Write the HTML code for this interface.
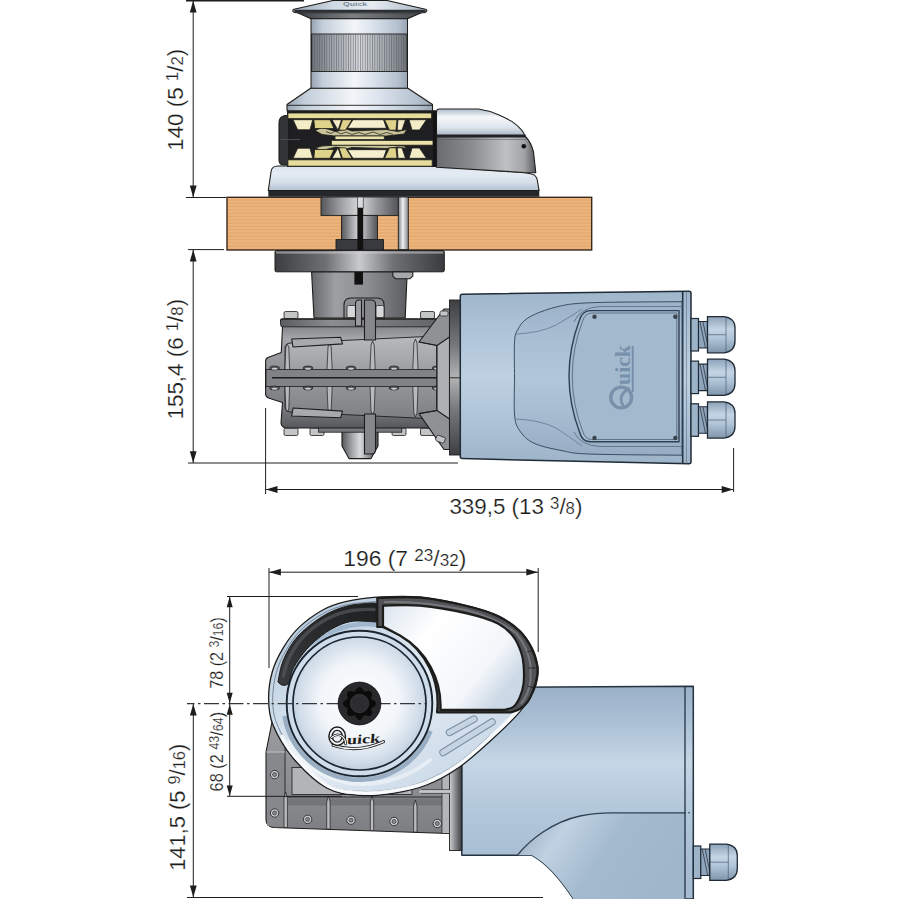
<!DOCTYPE html>
<html lang="en">
<head>
<meta charset="utf-8">
<title>Windlass dimensions</title>
<style>
html,body{margin:0;padding:0;background:#fff;}
body{width:899px;height:899px;overflow:hidden;}
svg{display:block;}
text{font-family:"Liberation Sans",sans-serif;fill:#1d1d1b;}
#dims text{stroke:#fff;stroke-width:0.2px;}
.dl{stroke:#1d1d1b;stroke-width:1;fill:none;}
.ar{fill:#1d1d1b;stroke:none;}
.ol{stroke:#1d1d1b;stroke-width:1.1;stroke-linejoin:round;}
</style>
</head>
<body>
<svg width="899" height="899" viewBox="0 0 899 899">
<defs>
<!-- GRADIENTS -->
<linearGradient id="gDrum" x1="0" x2="1" y1="0" y2="0">
  <stop offset="0" stop-color="#97a3b1"/><stop offset="0.12" stop-color="#c3ceda"/><stop offset="0.45" stop-color="#f3f6f9"/><stop offset="0.62" stop-color="#dde5ee"/><stop offset="0.9" stop-color="#b4c0ce"/><stop offset="1" stop-color="#98a4b2"/>
</linearGradient>
<linearGradient id="gKnurl" x1="0" x2="1" y1="0" y2="0">
  <stop offset="0" stop-color="#6e737a"/><stop offset="0.2" stop-color="#a0a5ac"/><stop offset="0.5" stop-color="#d8dbdf"/><stop offset="0.75" stop-color="#abb0b6"/><stop offset="1" stop-color="#70757c"/>
</linearGradient>
<pattern id="pKnurl" width="2.4" height="10" patternUnits="userSpaceOnUse"><rect x="0" y="0" width="0.9" height="10" fill="#4d5157" opacity="0.55"/></pattern>
<linearGradient id="gCapTop" x1="0" x2="1" y1="0" y2="0">
  <stop offset="0" stop-color="#9daab8"/><stop offset="0.3" stop-color="#cfd9e4"/><stop offset="0.6" stop-color="#e6ecf2"/><stop offset="1" stop-color="#a7b3c1"/>
</linearGradient>
<linearGradient id="gCapUnder" x1="0" x2="1" y1="0" y2="0">
  <stop offset="0" stop-color="#3f4246"/><stop offset="0.45" stop-color="#7b7e83"/><stop offset="1" stop-color="#44474b"/>
</linearGradient>
<linearGradient id="gBase" x1="0" x2="0" y1="0" y2="1">
  <stop offset="0" stop-color="#d9e2ec"/><stop offset="0.3" stop-color="#e4ebf3"/><stop offset="0.7" stop-color="#d3dde8"/><stop offset="1" stop-color="#b1bfcf"/>
</linearGradient>
<linearGradient id="gCover" x1="0" x2="0" y1="0" y2="1">
  <stop offset="0" stop-color="#aebbca"/><stop offset="0.3" stop-color="#f6f8fb"/><stop offset="0.7" stop-color="#dbe3ec"/><stop offset="1" stop-color="#a5b1c0"/>
</linearGradient>
<linearGradient id="gBand" x1="0" x2="1" y1="0" y2="0">
  <stop offset="0" stop-color="#6a6b6e"/><stop offset="0.35" stop-color="#8a8b8e"/><stop offset="0.7" stop-color="#bfc0c2"/><stop offset="0.88" stop-color="#a3a4a6"/><stop offset="1" stop-color="#58595c"/>
</linearGradient>
<linearGradient id="gYellow" x1="0" x2="1" y1="0" y2="0">
  <stop offset="0" stop-color="#c9be78"/><stop offset="0.35" stop-color="#f3ecb9"/><stop offset="0.6" stop-color="#f7f2cf"/><stop offset="1" stop-color="#c4b972"/>
</linearGradient>
<pattern id="pWood" x="0" y="197.300" width="10" height="3.300" patternUnits="userSpaceOnUse"><rect width="10" height="3.300" fill="#edb57e"/><rect y="2.100" width="10" height="1.200" fill="#e4a66c"/></pattern>
<linearGradient id="gSteel" x1="0" x2="1" y1="0" y2="0">
  <stop offset="0" stop-color="#55575b"/><stop offset="0.3" stop-color="#a9abae"/><stop offset="0.5" stop-color="#d9dadc"/><stop offset="0.7" stop-color="#9b9da0"/><stop offset="1" stop-color="#505256"/>
</linearGradient>
<linearGradient id="gFlange" x1="0" x2="1" y1="0" y2="0">
  <stop offset="0" stop-color="#3c3d40"/><stop offset="0.3" stop-color="#6f7073"/><stop offset="0.5" stop-color="#c9cacc"/><stop offset="0.7" stop-color="#6f7073"/><stop offset="1" stop-color="#3a3b3e"/>
</linearGradient>
<linearGradient id="gRod" x1="0" x2="1" y1="0" y2="0">
  <stop offset="0" stop-color="#7b7e83"/><stop offset="0.45" stop-color="#eef0f2"/><stop offset="1" stop-color="#85888d"/>
</linearGradient>
<linearGradient id="gNeck" x1="0" x2="1" y1="0" y2="0">
  <stop offset="0" stop-color="#66686c"/><stop offset="0.25" stop-color="#9d9fa2"/><stop offset="0.6" stop-color="#8a8c90"/><stop offset="1" stop-color="#5c5e62"/>
</linearGradient>
<linearGradient id="gGear" x1="0" x2="0" y1="0" y2="1">
  <stop offset="0" stop-color="#6e7074"/><stop offset="0.18" stop-color="#a4a6a9"/><stop offset="0.5" stop-color="#8c8e92"/><stop offset="0.82" stop-color="#7a7c80"/><stop offset="1" stop-color="#55575b"/>
</linearGradient>
<linearGradient id="gGearH" x1="0" x2="0" y1="0" y2="1">
  <stop offset="0" stop-color="#b8babd"/><stop offset="0.5" stop-color="#97999d"/><stop offset="1" stop-color="#7d7f83"/>
</linearGradient>
<linearGradient id="gMotor" x1="0" x2="0" y1="0" y2="1">
  <stop offset="0" stop-color="#9fb5ca"/><stop offset="0.2" stop-color="#adc2d6"/><stop offset="0.5" stop-color="#bed1e2"/><stop offset="0.8" stop-color="#abc0d5"/><stop offset="1" stop-color="#9db3c8"/>
</linearGradient>
<linearGradient id="gMotorBump" x1="0" x2="0" y1="0" y2="1">
  <stop offset="0" stop-color="#9cb2c8"/><stop offset="0.25" stop-color="#a9bed3"/><stop offset="0.5" stop-color="#b2c6d9"/><stop offset="0.75" stop-color="#a6bbd0"/><stop offset="1" stop-color="#97adc3"/>
</linearGradient>
<linearGradient id="gGland" x1="0" x2="0" y1="0" y2="1">
  <stop offset="0" stop-color="#8ca2b8"/><stop offset="0.35" stop-color="#c4d5e4"/><stop offset="0.6" stop-color="#b1c5d8"/><stop offset="1" stop-color="#7f95ab"/>
</linearGradient>
<linearGradient id="gMotor2" gradientUnits="userSpaceOnUse" x1="0" x2="0" y1="686" y2="900">
  <stop offset="0" stop-color="#9bb1c7"/><stop offset="0.16" stop-color="#aabfd4"/><stop offset="0.355" stop-color="#c5d6e6"/><stop offset="0.59" stop-color="#b2c7da"/><stop offset="0.8" stop-color="#a9bed3"/><stop offset="1" stop-color="#a5bad0"/>
</linearGradient>
<linearGradient id="gMotor2b" x1="0" x2="1" y1="0" y2="0.35">
  <stop offset="0" stop-color="#8fa5bb"/><stop offset="0.3" stop-color="#c0d2e2"/><stop offset="0.6" stop-color="#a4bacf"/><stop offset="1" stop-color="#a0b6cb"/>
</linearGradient>
<radialGradient id="gDisc" cx="0.5" cy="0.48" r="0.55">
  <stop offset="0" stop-color="#ffffff"/><stop offset="0.55" stop-color="#f1f5f9"/><stop offset="0.85" stop-color="#cfdbe8"/><stop offset="1" stop-color="#b3c4d6"/>
</radialGradient>
<linearGradient id="gEgg" x1="0" x2="1" y1="0" y2="1">
  <stop offset="0" stop-color="#a9bed3"/><stop offset="0.25" stop-color="#c9d8e7"/><stop offset="0.5" stop-color="#e3ebf3"/><stop offset="0.75" stop-color="#cfdcea"/><stop offset="1" stop-color="#b9cbdd"/>
</linearGradient>
<linearGradient id="gTopCover" x1="0" x2="1" y1="0" y2="0.6">
  <stop offset="0" stop-color="#dbe5ef"/><stop offset="0.35" stop-color="#ffffff"/><stop offset="0.8" stop-color="#f3f6fa"/><stop offset="1" stop-color="#cbd8e5"/>
</linearGradient>
<linearGradient id="gGear2" x1="0" x2="0" y1="0" y2="1">
  <stop offset="0" stop-color="#9a9ca0"/><stop offset="0.6" stop-color="#8b8d91"/><stop offset="1" stop-color="#7c7e82"/>
</linearGradient>
<linearGradient id="gFlangeV" x1="0" x2="1" y1="0" y2="0">
  <stop offset="0" stop-color="#cfd0d2"/><stop offset="0.35" stop-color="#999b9e"/><stop offset="0.7" stop-color="#66686b"/><stop offset="1" stop-color="#3e3f42"/>
</linearGradient>
<linearGradient id="gArc" x1="0" x2="1" y1="1" y2="0">
  <stop offset="0" stop-color="#3a3b3e"/><stop offset="0.5" stop-color="#2a2b2d"/><stop offset="1" stop-color="#1e1f21"/>
</linearGradient>
<linearGradient id="gFlangeSide" x1="0" x2="0" y1="0" y2="1">
  <stop offset="0" stop-color="#3e3f42"/><stop offset="0.3" stop-color="#77797c"/><stop offset="0.5" stop-color="#b2b3b5"/><stop offset="0.7" stop-color="#77797c"/><stop offset="1" stop-color="#3e3f42"/>
</linearGradient>
<linearGradient id="gLip" x1="0" x2="1" y1="0" y2="0">
  <stop offset="0" stop-color="#5a5c60"/><stop offset="0.3" stop-color="#8b8d91"/><stop offset="0.6" stop-color="#77797d"/><stop offset="1" stop-color="#5e6064"/>
</linearGradient>
</defs>

<rect width="899" height="899" fill="#ffffff"/>

<g id="sideview">
<!-- WOOD -->
<rect x="227" y="197.300" width="364.700" height="52.700" fill="url(#pWood)" stroke="#3a2a1e" stroke-width="1.400"/>
<!-- shaft recess in wood -->
<rect x="321" y="197" width="78" height="18.4" fill="url(#gSteel)" stroke="#1d1d1b" stroke-width="0.9"/>
<rect x="341.5" y="215.4" width="36" height="24.4" fill="url(#gSteel)" stroke="#1d1d1b" stroke-width="0.9"/>
<rect x="336" y="239.6" width="47.5" height="10.4" fill="#3a3b3e" stroke="#1d1d1b" stroke-width="0.9"/>
<rect x="357.4" y="197" width="5.8" height="11" fill="#d9dbde" stroke="#1d1d1b" stroke-width="0.6"/>
<rect x="357.4" y="208" width="5.8" height="42" fill="#111"/>
<rect x="398.3" y="197" width="10" height="52.6" fill="url(#gRod)" stroke="#1d1d1b" stroke-width="0.9"/>
<!-- FLANGE under deck -->
<rect x="275" y="250.6" width="169.3" height="21.2" rx="1.5" fill="url(#gFlange)" stroke="#1d1d1b" stroke-width="1"/>
<rect x="276" y="251.4" width="167.3" height="2.2" fill="#d0d1d3" opacity="0.55"/>
<!-- NECK -->
<path class="ol" d="M311.6 272H407.2L405.2 318H314z" fill="url(#gNeck)"/>
<rect x="354.4" y="272" width="8.6" height="12.6" fill="#111"/>
<path class="ol" d="M392.8 272h20v4.2l-3 2.6h-14l-3-2.6z" fill="#a6a8ab" stroke-width="0.8"/>

<!-- GEARBOX -->
<!-- bolts top/bottom -->
<g fill="#c2c4c6" stroke="#1d1d1b" stroke-width="0.8">
<rect x="284" y="311.5" width="14" height="7" rx="1.5"/>
<rect x="420.5" y="311.5" width="14" height="7" rx="1.5"/>
<rect x="284" y="428" width="14" height="7.5" rx="1.5"/>
<rect x="310" y="428" width="14" height="7.5" rx="1.5"/>
<rect x="392" y="428" width="14" height="7.5" rx="1.5"/>
<rect x="420.5" y="428" width="14" height="7.5" rx="1.5"/>
</g>
<!-- bottom plug -->
<path class="ol" d="M342 428h36v18l-7 12.6h-22l-7-12.6z" fill="url(#gSteel)"/>
<!-- bottom plate -->
<rect x="318.600" y="427" width="83.200" height="5.200" fill="#77797d" stroke="#1d1d1b" stroke-width="0.800"/>
<!-- main body -->
<path class="ol" d="M280.500 320.500Q280.500 318.800 282.500 318.800H449V428H286Q281.500 427.500 281 423L282.500 402.600 268.500 398Q265.800 397 265.600 394V361Q265.800 358 268.500 357.200L281.300 352.400 282.500 327z" fill="url(#gGear)"/>
<path d="M281.500 319.400H449V326.800H282.500Q280.500 326.800 280.500 324.800V321.400Q280.500 319.400 281.500 319.400z" fill="url(#gLip)" stroke="#1d1d1b" stroke-width="0.800"/>
<!-- barrel -->
<path d="M285 347Q286 343 290 343L437 336V419L290 412Q286 412 285 408z" fill="url(#gGearH)" stroke="#1d1d1b" stroke-width="0.900"/>
<!-- centre split -->
<rect x="266" y="369.500" width="183" height="17" fill="#808286" stroke="#1d1d1b" stroke-width="0.800"/>
<path d="M272 377.800H449" stroke="#1d1d1b" stroke-width="1.500"/>
<!-- ribs -->
<g stroke="#1d1d1b" stroke-width="0.700" fill="#b7b9bc">
<path d="M285.800 347l1.500-2.500 1.500 2.500 0.800 22.500h-4.600z"/><path d="M285.800 409l1.500 2.500 1.500-2.500 0.800-22.500h-4.600z"/>
<path d="M328 347l1.600-4 1.600 4 1 22.500h-5.200z"/><path d="M328 409l1.600 4 1.600-4 1-22.500h-5.200z"/>
<path d="M371 345l1.600-4 1.600 4 1 24.500h-5.200z"/><path d="M371 411l1.600 4 1.600-4 1-24.500h-5.200z"/>
<path d="M413.800 343l1.600-4 1.600 4 1 26.500h-5.200z"/><path d="M413.800 413l1.600 4 1.600-4 1-26.500h-5.200z"/>
</g>
<!-- small bolts on split -->
<g fill="#55575b" stroke="#1d1d1b" stroke-width="0.700">
<ellipse cx="274.600" cy="368" rx="5" ry="2"/><ellipse cx="274.600" cy="388" rx="5" ry="2"/>
<ellipse cx="308" cy="368" rx="5" ry="2"/><ellipse cx="308" cy="388" rx="5" ry="2"/>
<ellipse cx="351" cy="368" rx="5" ry="2"/><ellipse cx="351" cy="388" rx="5" ry="2"/>
<ellipse cx="394" cy="368" rx="5" ry="2"/><ellipse cx="394" cy="388" rx="5" ry="2"/>
<ellipse cx="437" cy="368" rx="5" ry="2"/><ellipse cx="437" cy="388" rx="5" ry="2"/>
</g>
<g fill="#c9cbcd">
<ellipse cx="274.600" cy="368.700" rx="3" ry="1"/><ellipse cx="274.600" cy="388.700" rx="3" ry="1"/>
<ellipse cx="308" cy="368.700" rx="3" ry="1"/><ellipse cx="308" cy="388.700" rx="3" ry="1"/>
<ellipse cx="351" cy="368.700" rx="3" ry="1"/><ellipse cx="351" cy="388.700" rx="3" ry="1"/>
<ellipse cx="394" cy="368.700" rx="3" ry="1"/><ellipse cx="394" cy="388.700" rx="3" ry="1"/>
<ellipse cx="437" cy="368.700" rx="3" ry="1"/><ellipse cx="437" cy="388.700" rx="3" ry="1"/>
</g>
<!-- angled plates -->
<path class="ol" d="M291.700 339L340.700 337.300 342.500 343.900 293 347z" fill="#a7a9ac" stroke-width="0.8"/>
<path class="ol" d="M291.700 416L340.700 417.700 342.500 411.100 293 408z" fill="#a7a9ac" stroke-width="0.8"/>
<!-- clamp top -->
<path class="ol" d="M344 318V305Q344 298 351 298H377Q384 298 384 305V318z" fill="#8b8d91" stroke-width="0.9"/>
<rect x="347" y="305.500" width="9" height="12" rx="1.500" fill="#d5d7d9" stroke="#1d1d1b" stroke-width="0.7"/>
<rect x="376" y="305.500" width="8" height="12" rx="1.500" fill="#d5d7d9" stroke="#1d1d1b" stroke-width="0.7"/>
<path class="ol" d="M355.500 326V304Q355.500 300 359 300H361.500V326z" fill="#9a9c9f" stroke-width="0.9"/>
<path class="ol" d="M364.500 340V300H371Q375.500 300 375.500 304V340z" fill="#85878b" stroke-width="0.9"/>
<!-- clamp bottom -->
<path class="ol" d="M364.500 414H375.500V450Q375.500 454 371 454H364.500z" fill="#85878b" stroke-width="0.9"/>
<!-- cone toward motor -->
<path class="ol" d="M419 342L444 309H449.500V449.500H444L419 413.600 437 410.500V345.500z" fill="#8f9195"/>
<path class="ol" d="M437 345.500L449.500 337V419L437 410.500z" fill="#aeb0b3" stroke-width="0.800"/>
<path d="M437 345.500L419 342M437 410.500L419 413.600" stroke="#1d1d1b" stroke-width="0.800"/>
<g fill="#c2c4c6" stroke="#1d1d1b" stroke-width="0.700"><rect x="436" y="436" width="9" height="6" rx="1.500" transform="rotate(20 440 439)"/><rect x="440" y="311" width="8" height="5" rx="1.500"/></g>

<!-- MOTOR -->
<rect x="449.500" y="300" width="11" height="155" fill="url(#gFlangeSide)" stroke="#1d1d1b" stroke-width="0.9"/><path d="M449.500 377.800H460.500" stroke="#1d1d1b" stroke-width="0.9"/>
<path d="M462.300 294.200L689 291.200Q691 291.200 691 293.200V461.800Q691 463.800 689 463.800L462.300 458.600Q460.300 458.600 460.300 456.600V296.200Q460.300 294.200 462.300 294.200z" fill="url(#gMotor)" stroke="#202c38" stroke-width="1.500"/>
<path d="M682.700 291.400V463.600" stroke="#253341" stroke-width="1.600" fill="none"/>
<path d="M686.500 291.400V463.600" stroke="#5b7088" stroke-width="0.600" fill="none"/>
<!-- bump -->
<path d="M682 301.700H678C663.2 301.9 609.4 301.9 589.0 302.8C568.6 303.7 565.6 304.8 555.6 307.2C545.6 309.6 535.3 313.6 529.0 317.3C522.7 321.0 520.2 325.2 517.8 329.5C515.4 333.8 515.0 334.7 514.5 342.8C514.0 350.9 514.5 366.1 514.5 378.0C514.5 389.9 513.8 405.4 514.5 414.0C515.2 422.6 515.9 424.8 519.0 429.6C522.1 434.4 526.2 439.5 533.4 443.0C540.6 446.5 553.0 448.9 562.3 450.7C571.6 452.5 569.7 453.2 589.0 454.0C608.3 454.8 663.2 455.0 678.0 455.2H682z" fill="url(#gMotorBump)" stroke="#3b4c5e" stroke-width="1"/>
<path d="M682 306.500H600Q580 307.500 574 322" stroke="#566a80" stroke-width="0.800" fill="none"/>
<path d="M682 446.500H600Q580 445.500 574 432" stroke="#566a80" stroke-width="0.800" fill="none"/>
<path d="M516 334Q540 333 556 325Q570 317 582 309" stroke="#647890" stroke-width="0.800" fill="none"/>
<path d="M516 419Q540 420 556 428Q570 437 582 446" stroke="#647890" stroke-width="0.800" fill="none"/>
<!-- cover plate -->
<path d="M679 310.600H590Q582 311 579.500 320Q569 348 569 376Q569 404 579.500 432Q582 441.400 590 441.800H679z" fill="#a3b9ce" stroke="#2f4052" stroke-width="1.400" stroke-linejoin="round"/>
<path d="M676.800 313H591.500Q585 313.300 582.600 321Q572.300 348 572.300 376Q572.300 404 582.600 431Q585 439.200 591.500 439.500H676.800z" fill="none" stroke="#4d6075" stroke-width="0.800"/>
<g fill="#3a444e"><circle cx="594.500" cy="316.800" r="2.200"/><circle cx="675.300" cy="316.800" r="2.200"/><circle cx="594.500" cy="438" r="2.200"/><circle cx="675.300" cy="438" r="2.200"/></g>
<!-- logo on motor -->
<g transform="translate(632.500 410) rotate(-90)" fill="none" stroke="#7891ab">
<circle cx="12.500" cy="-11.300" r="10.400" stroke-width="3.400"/>
<path d="M4 -9Q14 -16 22 -3" stroke-width="2.800"/>
<text style="font-family:'Liberation Serif',serif;fill:#7891ab" x="25" y="-2.500" font-size="20" font-weight="bold" stroke="none" textLength="40" lengthAdjust="spacingAndGlyphs">uick</text>
<path d="M18 0.300H64" stroke-width="2"/>
</g>
<!-- glands -->
<g id="gl1">
<rect x="691" y="318.500" width="7.500" height="32.500" fill="#9db3c8" stroke="#1f2a36" stroke-width="1.200"/>
<path d="M698.500 321.500h9v26.500h-9z" fill="#8fa5bb" stroke="#1f2a36" stroke-width="1.100"/>
<path d="M700 322l5.500 26M703 322l4.500 22" stroke="#1f2a36" stroke-width="0.700" fill="none"/>
<path d="M707.500 316.600H724Q735 318 735 328V341Q735 351.500 724 352.800H707.500z" fill="url(#gGland)" stroke="#1f2a36" stroke-width="1.300"/>
<path d="M707.500 334.700H726M726 317.500V352" stroke="#4c6076" stroke-width="0.700" fill="none"/>
</g>
<use href="#gl1" y="42.600"/>
<use href="#gl1" y="85.300"/>

<!-- WINDLASS TOP -->
<!-- base dark underside -->
<path d="M268.300 189H539.300V196.800H268.300z" fill="#26272a"/>
<!-- base -->
<path class="ol" d="M271 172Q271.500 166 278 166H436L524.500 172.800 531.800 174Q536.500 175.500 537.300 180L539 190.500H268.300z" fill="url(#gBase)"/>
<!-- cover grey band -->
<path class="ol" d="M436.500 136H525Q531 142 533.500 152L535.800 172.800 524 172.500 436.500 167.300z" fill="url(#gBand)"/>
<path d="M437 139.500H527" stroke="#55565a" stroke-width="1.200" opacity="0.500"/>
<circle cx="523.800" cy="146.200" r="2.300" fill="#111"/>
<!-- cover chrome top -->
<path class="ol" d="M436.500 136V112Q436.500 109 439.500 109H478.400Q489 110.500 498.400 114.700Q506 118 511.800 121.400Q517 125 521 129.400Q523.500 132 525 136z" fill="url(#gCover)"/>
<path d="M436.500 136H525.500" stroke="#222326" stroke-width="3"/>
<!-- gypsy dark background -->
<rect x="287" y="110.500" width="149" height="56.500" fill="#1f1f21"/>
<!-- stripper housing left -->
<path class="ol" d="M288.500 115.500H285Q279 116.500 279 123V160Q279 165 284 165H288.500z" fill="#333437"/>
<path d="M280.500 139.500H300" stroke="#4a4b4e" stroke-width="1"/>
<!-- gypsy -->
<g stroke="#1d1d1b" stroke-width="0.800" stroke-linejoin="round">
<rect x="287.900" y="113" width="143.700" height="5.600" fill="#e6dc9c"/>
<rect x="287.900" y="159.800" width="144.300" height="6.400" fill="#e6dc9c"/>
<path d="M315 130.500L322 127.500 336 131.500 346 129 352 131 386 129.500 398 131.500 407 129.500 404 134 386 136H335L322 134.500z" fill="#c9c39a"/>
<path d="M315 148L322 150.500 336 147 346 149 352 147.500 386 148.500 398 147 407 148.500 404 146 386 145.200H335L322 146z" fill="#c9c39a"/>
<path d="M293.0 119.7L312.8 119.7L310.0 129.8L297.7 129.8z" fill="#f3ecc6"/>
<path d="M293.0 158.3L312.8 158.3L310.0 148.2L297.7 148.2z" fill="#f3ecc6"/>
<path d="M313.8 119.7L330.0 119.7L334.0 128.5L314.7 128.5z" fill="#dfd38b"/>
<path d="M313.8 158.3L330.0 158.3L334.0 149.5L314.7 149.5z" fill="#dfd38b"/>
<path d="M332.0 119.7L341.5 119.7L338.0 130.2z" fill="#f3ecc6"/>
<path d="M332.0 158.3L341.5 158.3L338.0 147.8z" fill="#f3ecc6"/>
<path d="M342.5 119.7L352.0 119.7L345.5 130.2L339.0 130.2z" fill="#dfd38b"/>
<path d="M342.5 158.3L352.0 158.3L345.5 147.8L339.0 147.8z" fill="#dfd38b"/>
<path d="M353.0 119.7L383.5 119.7L386.5 128.3L347.5 128.3z" fill="#f5efcf"/>
<path d="M353.0 158.3L383.5 158.3L386.5 149.7L347.5 149.7z" fill="#f5efcf"/>
<path d="M384.5 119.7L397.0 119.7L396.0 130.2L389.5 130.2z" fill="#dfd38b"/>
<path d="M384.5 158.3L397.0 158.3L396.0 147.8L389.5 147.8z" fill="#dfd38b"/>
<path d="M398.0 119.7L405.5 119.7L402.0 130.2L397.2 130.2z" fill="#f3ecc6"/>
<path d="M398.0 158.3L405.5 158.3L402.0 147.8L397.2 147.8z" fill="#f3ecc6"/>
<path d="M409.0 119.7L426.5 119.7L419.5 130.0L412.0 130.0z" fill="#f3ecc6"/>
<path d="M409.0 158.3L426.5 158.3L419.5 148.0L412.0 148.0z" fill="#f3ecc6"/>
<rect x="335" y="136" width="49.300" height="3.600" fill="#ebe3ab"/>
<rect x="331.400" y="140.400" width="101.600" height="4.800" fill="#ebe3ab"/>
</g>
<path d="M326 131.500l5 2 4-2.500 6 3 5-2 6 2.500 7-2 6 2 8-2.500 7 2.500 7-2 6 2" fill="none" stroke="#1d1d1b" stroke-width="0.700"/>
<rect x="433" y="110.500" width="3.200" height="56.500" fill="#141416"/>
<!-- drum -->
<path class="ol" d="M311 88H407.500L432.500 104.500V110.800H287V104.500z" fill="url(#gDrum)"/>
<path d="M287 105.300H432.500" stroke="#1d1d1b" stroke-width="0.900"/>
<rect x="311" y="18.500" width="96.500" height="69.700" fill="url(#gDrum)" stroke="#1d1d1b" stroke-width="1"/>
<rect x="311.500" y="34" width="95.500" height="37.500" fill="url(#gKnurl)" stroke="#1d1d1b" stroke-width="0.900"/>
<rect x="312" y="34.500" width="94.500" height="36.500" fill="url(#pKnurl)"/>
<!-- cap -->
<path class="ol" d="M296.500 12.300L311 18.700H407.500L422.500 12.300z" fill="url(#gCapUnder)"/>
<path class="ol" d="M333 0.500H387L425.500 9.200Q427.500 10 426.500 11.500Q425.500 12.800 423 12.800H297Q294 12.800 293 11.500Q292.200 10 294 9.200z" fill="url(#gCapTop)"/>
<path d="M294.500 10.800H425.500" stroke="#2c3036" stroke-width="2.200"/>
<text style="italic;fill:#7a8694" x="343" y="5.500" font-size="5.500" font-weight="bold" font- fill="#7a8694" textLength="24" lengthAdjust="spacingAndGlyphs">Quick</text>
</g>
<g id="topview">
<!-- MOTOR housing (plan) -->
<path d="M500 687.200L693.300 686.200V899H573.500Q552 866 532 855.300H461.800V760z" fill="url(#gMotor2)" stroke="#253341" stroke-width="1.500" stroke-linejoin="round"/>
<path d="M686 812.800H612C600 812.800 592 813.500 580 816C552 822 530 840 518 855.300H532Q552 866 573.500 899H686z" fill="url(#gMotor2b)" stroke="none"/>
<path d="M686 812.800H612C600 812.800 592 813.500 580 816C552 822 530 840 518 854.500" fill="none" stroke="#2f4152" stroke-width="1.300"/>
<path d="M685 686.500V899" stroke="#253341" stroke-width="1.300" fill="none"/>
<circle cx="689" cy="812.800" r="0.800" fill="#1f2a36"/>
<!-- gland bottom -->
<g transform="translate(2.300 527.500)"><use href="#gl1"/></g>
<!-- dark flange between gearbox and motor -->
<rect x="449.500" y="760" width="12.300" height="90.500" fill="url(#gFlangeV)" stroke="#1d1d1b" stroke-width="0.900"/>
<!-- GEARBOX (plan) -->
<path class="ol" d="M272 722L266 752V820Q266.500 826.500 273 827.500L448.500 833.500V745z" fill="url(#gGear2)"/>
<path d="M266 797H449" stroke="#1d1d1b" stroke-width="0.900" fill="none"/>
<path d="M285 735V828" stroke="#1d1d1b" stroke-width="0.900" fill="none"/>
<rect x="267" y="752" width="17" height="74" fill="#86888c" stroke="none"/>
<path d="M266.500 752H285" stroke="#b9bbbe" stroke-width="1.200"/>
<rect x="292" y="767.500" width="120" height="27" fill="#b2b4b7" stroke="#1d1d1b" stroke-width="0.800"/>
<rect x="288" y="798.500" width="160" height="7" fill="#606266" opacity="0.500"/>
<g fill="#b9bbbe" stroke="#1d1d1b" stroke-width="0.700">
<path d="M284 798l1.700-6 1.700 6v29.500h-3.400z"/>
<path d="M326.700 802l1.700-6 1.700 6v27h-3.400z"/>
<path d="M370.300 802l1.700-6 1.700 6v28.500h-3.400z"/>
<path d="M413.600 806l1.700-6 1.700 6v26h-3.400z"/>
</g>
<path d="M442 774L449.500 768V833.500H442z" fill="#b3b5b8" stroke="#1d1d1b" stroke-width="0.700"/><path d="M421 791.500H449" stroke="#c5c7c9" stroke-width="3.400" stroke-linecap="round"/>
<path d="M421 789.600H449M421 793.400H449" stroke="#1d1d1b" stroke-width="0.600"/>
<g fill="#c9cbcd" stroke="#1d1d1b" stroke-width="0.800">
<circle cx="274.600" cy="774.600" r="4.200"/><circle cx="274.600" cy="813" r="4.200"/>
<circle cx="307.600" cy="819.400" r="4.200"/><circle cx="351" cy="820.200" r="4.200"/><circle cx="394" cy="821.500" r="4.200"/><circle cx="437.300" cy="823.500" r="4.200"/>
</g>
<g fill="#8a8c90" stroke="#1d1d1b" stroke-width="0.600">
<circle cx="274.600" cy="774.600" r="2"/><circle cx="274.600" cy="813" r="2"/>
<circle cx="307.600" cy="819.400" r="2"/><circle cx="351" cy="820.200" r="2"/><circle cx="394" cy="821.500" r="2"/><circle cx="437.300" cy="823.500" r="2"/>
</g>
<!-- EGG BASE -->
<path id="egg" d="M376.8 597.2C389.2 596.4 405.0 595.6 420.0 597.0C435.0 598.4 453.7 602.5 466.7 605.6C479.7 608.7 489.1 611.6 497.9 615.7C506.7 619.9 514.0 625.2 519.7 630.5C525.4 635.8 529.0 641.9 532.0 647.6C535.0 653.3 536.7 659.9 537.6 664.8C538.5 669.7 538.2 672.6 537.6 677.0C537.0 681.4 536.6 685.2 533.7 691.0C530.8 696.8 526.7 703.8 520.0 711.7C513.3 719.6 503.3 729.1 493.3 738.3C483.3 747.5 471.1 758.9 460.0 766.7C448.9 774.5 437.8 780.6 426.7 785.0C415.6 789.4 404.4 791.6 393.3 793.3C382.2 795.0 371.1 796.2 360.0 795.3C348.9 794.4 337.9 794.2 326.7 788.0C315.5 781.8 301.9 768.5 293.0 758.0C284.1 747.5 277.1 734.8 273.0 725.0C268.9 715.2 268.7 708.0 268.6 699.0C268.5 690.0 270.0 679.6 272.5 671.0C275.0 662.4 279.0 654.9 283.4 647.6C287.8 640.3 292.5 633.6 299.0 627.4C305.5 621.2 314.5 614.5 322.3 610.2C330.1 605.9 336.6 603.9 345.7 601.7C354.8 599.5 364.4 598.0 376.8 597.2z" fill="url(#gEgg)" stroke="#1d1d1b" stroke-width="1.300"/>
<path d="M376.0 601.5C370.9 602.1 354.6 602.9 345.7 605.0C336.8 607.1 329.8 609.8 322.3 614.0C314.9 618.2 307.0 624.1 301.0 630.0C295.0 635.9 290.6 642.5 286.5 649.5C282.4 656.5 278.8 663.8 276.5 672.0C274.2 680.2 272.6 690.3 272.7 699.0C272.8 707.7 273.1 714.5 277.0 724.0C280.9 733.5 287.5 745.9 296.0 756.0C304.5 766.1 317.3 778.6 328.0 784.5C338.7 790.4 349.1 790.5 360.0 791.3C370.9 792.1 382.5 791.0 393.3 789.3C404.1 787.6 414.2 785.4 425.0 781.0C435.8 776.6 447.2 770.6 458.0 763.0C468.8 755.4 484.7 740.1 490.0 735.5" fill="none" stroke="#5f7388" stroke-width="0.800"/>
<!-- rim highlight -->
<path d="M527.9 695.5C526.2 697.9 524.1 703.2 518.1 710.0C512.0 716.8 501.5 727.3 491.5 736.4C481.6 745.5 469.5 756.9 458.5 764.6C447.5 772.3 436.7 778.2 425.7 782.6C414.8 786.9 403.8 789.0 392.9 790.7C382.0 792.4 371.0 793.5 360.2 792.7C349.4 791.9 338.8 791.8 328.0 785.7C317.1 779.6 302.5 764.4 294.9 756.2C287.3 748.0 284.3 739.9 282.2 736.6" fill="none" stroke="#ffffff" stroke-width="3.600" opacity="0.850" stroke-linecap="round"/>
<path d="M289 742Q308 776 352 783.500Q396 787 430 760" fill="none" stroke="#ffffff" stroke-width="4" opacity="0.450" stroke-linecap="round"/>
<!-- shaded zone between arc and disc -->
<path d="M306 650Q322 634 340 626Q360 620 377 622L383 626Q395 630 405 638Q380 622 350 628Q325 634 306 650z" fill="#9fb6cd"/>
<!-- slots -->
<path d="M449.500 732.500L474 719" stroke="#7b8ea4" stroke-width="7.400" stroke-linecap="round"/>
<path d="M449.500 732.500L474 719" stroke="#c6d4e2" stroke-width="5.400" stroke-linecap="round"/>
<path d="M443 752.500L492 722" stroke="#7b8ea4" stroke-width="7.400" stroke-linecap="round"/>
<path d="M443 752.500L492 722" stroke="#c6d4e2" stroke-width="5.400" stroke-linecap="round"/>
<!-- dark rim of cover -->
<path d="M378.0 598.0C385.0 597.9 405.2 596.3 420.0 597.6C434.8 598.9 453.7 602.9 466.7 606.0C479.7 609.1 489.1 612.0 497.9 616.2C506.7 620.4 513.8 625.7 519.4 631.0C525.0 636.3 528.5 642.4 531.4 648.0C534.3 653.6 536.1 660.0 537.0 664.8C537.9 669.6 537.7 672.6 537.0 677.0C536.3 681.4 534.6 686.8 533.0 691.0C531.4 695.2 529.7 699.0 527.5 702.0C525.3 705.0 522.5 707.3 519.7 709.0C517.0 710.7 512.5 711.8 511.0 712.3L437 712.300A80 80 0 0 0 400 635L383 627H377.300V598z" fill="#505256" stroke="#1d1d1b" stroke-width="2.200" stroke-linejoin="round"/>
<path d="M384 602Q420 600.800 466 610Q498 618.500 516.500 633.500Q528 648 530.500 665V680Q529 694 521 704" fill="none" stroke="#77797d" stroke-width="2.200" opacity="0.900"/>
<path d="M527 652L532.500 650.500M528.500 668H535.500M527.500 686L534 688" stroke="#1d1d1b" stroke-width="0.800"/>
<!-- cover (white chrome) -->
<path d="M383.0 605.6C389.2 605.6 406.1 604.3 420.0 605.6C433.9 606.9 453.7 610.4 466.7 613.4C479.7 616.4 490.1 619.6 497.9 623.5C505.7 627.4 509.6 632.0 513.5 636.7C517.4 641.5 519.3 647.3 521.0 652.0C522.7 656.7 523.2 659.5 523.6 664.8C524.0 670.0 524.2 678.0 523.6 683.5C523.0 689.0 521.4 693.6 519.7 697.5C518.0 701.4 516.0 704.8 513.5 706.8C511.1 708.8 506.4 709.3 505.0 709.8L440.500 709.800A81 81 0 0 0 400 635.500L383 626.500z" fill="url(#gTopCover)" stroke="#1d1d1b" stroke-width="2.200" stroke-linejoin="round"/>
<!-- stripper arm dark arc -->
<path d="M277.9 682.0C278.8 678.3 280.1 667.5 283.4 660.0C286.6 652.5 290.9 644.0 297.4 636.7C303.9 629.5 314.2 621.5 322.3 616.5C330.4 611.5 337.9 608.6 345.7 606.4C353.5 604.2 363.8 603.7 369.0 603.2C374.2 602.7 375.5 603.2 376.8 603.2L376.800 622C372.9 621.9 360.0 620.6 353.5 621.2C347.0 621.8 343.1 623.5 337.9 625.8C332.7 628.1 327.5 631.3 322.3 635.2C317.1 639.1 311.5 643.8 306.7 649.2C301.9 654.7 296.5 662.2 293.5 667.9C290.5 673.6 289.6 680.9 288.8 683.5Q283 688 277.900 682z" fill="url(#gArc)" stroke="#1d1d1b" stroke-width="1"/>
<path d="M283.500 676Q288 652 306 634Q326 615 352 610.500Q365 609 374 609.500" fill="none" stroke="#55575b" stroke-width="3.500" opacity="0.700" stroke-linecap="round"/>
<!-- disc shadow ring -->
<path d="M284.500 716A76 76 0 0 0 430.500 731" fill="none" stroke="#8ea4bb" stroke-width="4.500" opacity="0.850"/>
<!-- disc -->
<circle cx="359.500" cy="703.500" r="72.800" fill="#cfdcea" stroke="#1b2530" stroke-width="1.900"/>
<circle cx="359.500" cy="703.500" r="66.500" fill="url(#gDisc)" stroke="#1b2530" stroke-width="1.700"/>
<!-- centre line -->
<path d="M187 703.6H427" stroke="#33383e" stroke-width="1.100" stroke-dasharray="15 3.500 2.500 3.500" stroke-dashoffset="7.500" fill="none"/>
<!-- hub -->
<circle cx="359.5" cy="703.5" r="21.400" fill="#29292b" stroke="#0e0e0f" stroke-width="0.800"/>
<path d="M364.3 691.9Q374.7 688.3 371.1 698.7Q381.0 703.5 371.1 708.3Q374.7 718.7 364.3 715.1Q359.5 725.0 354.7 715.1Q344.3 718.7 347.9 708.3Q338.0 703.5 347.9 698.7Q344.3 688.3 354.7 691.9Q359.5 682.0 364.3 691.9z" fill="#0b0b0c"/>
<circle cx="359.5" cy="703.5" r="9.200" fill="#2d2d30"/>
<circle cx="359.5" cy="703.5" r="9.200" fill="none" stroke="#3c3c40" stroke-width="0.800"/>
<!-- logo -->
<path d="M333 745.300Q358 753.500 383.600 741.600" fill="none" stroke="#1d1d1b" stroke-width="3" stroke-linecap="round"/>
<path d="M333 745.300Q358 753.500 383.600 741.600" fill="none" stroke="#f4f7fa" stroke-width="1.300" stroke-linecap="round"/>
<ellipse cx="337.200" cy="736.200" rx="8.300" ry="9.200" fill="#f4f7fa" stroke="#1d1d1b" stroke-width="1.500"/>
<ellipse cx="337.200" cy="736.200" rx="5" ry="5.900" fill="#e9eff5" stroke="#1d1d1b" stroke-width="1.300"/>
<path d="M331.500 737.500Q337 732.500 342.500 736.500Q346 740 345.500 744" fill="none" stroke="#1d1d1b" stroke-width="2.600" stroke-linecap="round"/>
<path d="M331.500 737.500Q337 732.500 342.500 736.500Q346 740 345.500 744" fill="none" stroke="#f4f7fa" stroke-width="1.100" stroke-linecap="round"/>
<text style="font-family:'Liberation Serif',serif;fill:#1d1d1b" transform="translate(346.800 744.200) rotate(-3) skewX(-8)" font-size="13" font-weight="bold" textLength="33" lengthAdjust="spacingAndGlyphs">uick</text>
</g>
<g id="dims">
<!-- 140 -->
<path class="dl" d="M193.2 1V197"/>
<path d="M186 0.500H304" stroke="#1d1d1b" stroke-width="1.800" fill="none"/>
<path class="dl" d="M186 197.5H226"/>
<path class="ar" d="M193.2 0.8l-3.4 11.6h6.8z"/>
<path class="ar" d="M193.2 197.2l-3.4-11.6h6.8z"/>
<text transform="translate(182.800 150.800) rotate(-90)" font-size="22.400" textLength="102" lengthAdjust="spacingAndGlyphs">140 (5 <tspan font-size="16.800" dy="-5">1</tspan><tspan dy="5">/</tspan><tspan font-size="16.800">2</tspan>)</text>
<!-- 155,4 -->
<path class="dl" d="M193.2 250V463"/>
<path class="dl" d="M188 249.6H224"/>
<path class="dl" d="M188 463H458"/>
<path class="ar" d="M193.2 249.8l-3.4 11.6h6.8z"/>
<path class="ar" d="M193.2 462.8l-3.4-11.6h6.8z"/>
<text transform="translate(183.200 419.400) rotate(-90)" font-size="22.400" textLength="120.500" lengthAdjust="spacingAndGlyphs">155,4 (6 <tspan font-size="16.800" dy="-5">1</tspan><tspan dy="5">/</tspan><tspan font-size="16.800">8</tspan>)</text>
<!-- 339,5 -->
<path class="dl" d="M265.6 408V494"/>
<path class="dl" d="M733.6 448V492"/>
<path class="dl" d="M266 489.5H733"/>
<path class="ar" d="M265.9 489.5l11.6-3.4v6.8z"/>
<path class="ar" d="M733.3 489.5l-11.6-3.4v6.8z"/>
<text transform="translate(449.400 514.400)" font-size="22.400" textLength="133" lengthAdjust="spacingAndGlyphs">339,5 (13 <tspan font-size="16.800" dy="-5">3</tspan><tspan dy="5">/</tspan><tspan font-size="16.800">8</tspan>)</text>
<!-- 196 -->
<path class="dl" d="M269 568V668"/>
<path class="dl" d="M538.2 568V652"/>
<path class="dl" d="M269 572.2H538"/>
<path class="ar" d="M269.3 572.2l11.6-3.4v6.8z"/>
<path class="ar" d="M537.9 572.2l-11.6-3.4v6.8z"/>
<text transform="translate(343.300 565.800)" font-size="22.400" textLength="123" lengthAdjust="spacingAndGlyphs">196 (7 <tspan font-size="16.800" dy="-5">23</tspan><tspan dy="5">/</tspan><tspan font-size="16.800">32</tspan>)</text>
<!-- 78 / 68 -->
<path class="dl" d="M227 596.5H358" stroke-width="0.9"/>
<path class="dl" d="M227 796.3H342" stroke-width="0.9"/>
<path class="dl" d="M229.7 597V796" stroke-width="0.9"/>
<path class="ar" d="M229.7 596.8l-3 10.5h6z"/>
<path class="ar" d="M229.7 703.3l-3-10.5h6z"/>
<path class="ar" d="M229.7 704.3l-3 10.5h6z"/>
<path class="ar" d="M229.7 796l-3-10.5h6z"/>
<text transform="translate(223 688.700) rotate(-90)" font-size="19" textLength="71.500" lengthAdjust="spacingAndGlyphs">78 (2 <tspan font-size="14.5" dy="-4.5">3</tspan><tspan dy="4.5">/</tspan><tspan font-size="14.5">16</tspan>)</text>
<text transform="translate(223 791.400) rotate(-90)" font-size="19" textLength="79.600" lengthAdjust="spacingAndGlyphs">68 (2 <tspan font-size="14.5" dy="-4.5">43</tspan><tspan dy="4.5">/</tspan><tspan font-size="14.5">64</tspan>)</text>
<!-- 141,5 -->
<path class="dl" d="M193.3 704V897"/>
<path class="dl" d="M187 897.5H543"/>
<path class="ar" d="M193.3 704l-3.4 11.6h6.8z"/>
<path class="ar" d="M193.3 897.2l-3.4-11.6h6.8z"/>
<text transform="translate(185.400 870.800) rotate(-90)" font-size="22.400" textLength="127" lengthAdjust="spacingAndGlyphs">141,5 (5 <tspan font-size="16.800" dy="-5">9</tspan><tspan dy="5">/</tspan><tspan font-size="16.800">16</tspan>)</text>
</g>
</svg>
</body>
</html>
